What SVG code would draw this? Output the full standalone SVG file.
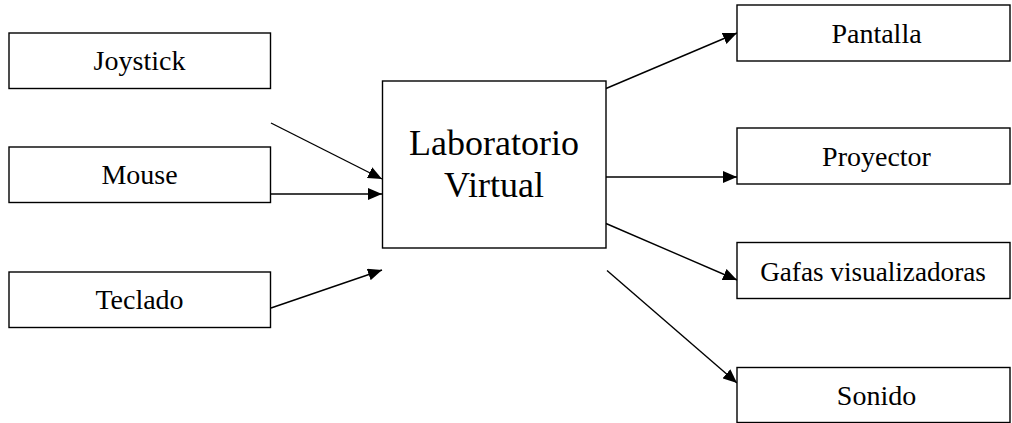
<svg xmlns="http://www.w3.org/2000/svg" width="1012" height="423" viewBox="0 0 1012 423" font-family="Liberation Serif, Times New Roman, serif">
<style>
.box{fill:#fff;stroke:#000;stroke-width:1.4}
text{font-size:28px;fill:#000;text-anchor:middle}
.big{font-size:36px}
.c{stroke:#000;stroke-width:1.4;fill:none;marker-end:url(#ah)}
</style>
<defs>
<marker id="ah" markerUnits="userSpaceOnUse" markerWidth="14" markerHeight="12" refX="14" refY="6" orient="auto">
<path d="M0,0 L14,6 L0,12 z" fill="#000"/>
</marker>
</defs>
<rect width="1012" height="423" fill="#fff"/>
<g id="connectors">
<line class="c" x1="271" y1="123" x2="382" y2="179"/>
<line class="c" x1="271" y1="194" x2="382" y2="194"/>
<line class="c" x1="271" y1="308" x2="382" y2="270"/>
<line class="c" x1="606" y1="88.5" x2="737" y2="33"/>
<line class="c" x1="606" y1="177" x2="737" y2="177"/>
<line class="c" x1="606" y1="223.5" x2="737" y2="280"/>
<line class="c" x1="607" y1="270.5" x2="737" y2="383"/>
</g>
<g id="joystick"><rect class="box" x="9" y="33" width="261.5" height="55.5"/><text x="139.5" y="70">Joystick</text></g>
<g id="mouse"><rect class="box" x="9" y="147" width="261.5" height="55.5"/><text x="139.5" y="184">Mouse</text></g>
<g id="teclado"><rect class="box" x="9" y="272" width="261.5" height="55.5"/><text x="139.5" y="308.5">Teclado</text></g>
<g id="laboratorio"><rect class="box" x="382.5" y="81" width="223.5" height="167"/><text class="big" x="494" y="155">Laboratorio</text><text class="big" x="494" y="196.5">Virtual</text></g>
<g id="pantalla"><rect class="box" x="737" y="5" width="273" height="56"/><text x="876.5" y="42.5">Pantalla</text></g>
<g id="proyector"><rect class="box" x="737" y="128" width="273" height="56"/><text x="876.5" y="165.5">Proyector</text></g>
<g id="gafas"><rect class="box" x="737" y="242.5" width="273" height="56"/><text x="873" y="280.5" style="font-size:27.2px">Gafas visualizadoras</text></g>
<g id="sonido"><rect class="box" x="737" y="367.5" width="273" height="55"/><text x="876.5" y="405">Sonido</text></g>
</svg>
